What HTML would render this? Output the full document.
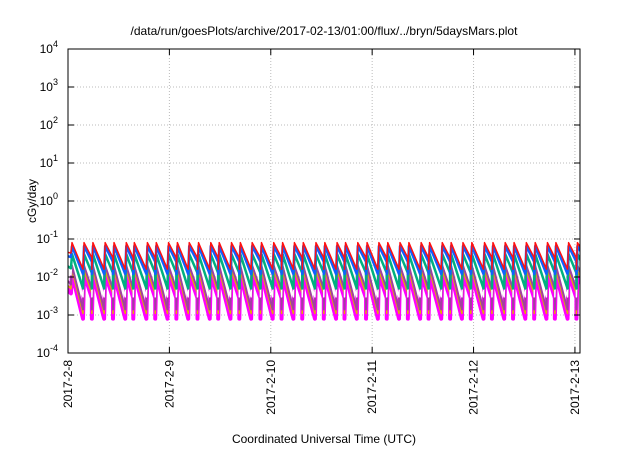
<!DOCTYPE html>
<html><head><meta charset="utf-8"><style>
body{margin:0;background:#fff;width:640px;height:448px;overflow:hidden}
svg{font-family:"Liberation Sans",sans-serif}
</style></head><body>
<svg id="chart" width="640" height="448" xmlns="http://www.w3.org/2000/svg">
<text x="324" y="35" font-size="12" text-anchor="middle">/data/run/goesPlots/archive/2017-02-13/01:00/flux/../bryn/5daysMars.plot</text>
<text x="324" y="443" font-size="12" text-anchor="middle">Coordinated Universal Time (UTC)</text>
<text transform="translate(36,201) rotate(-90)" font-size="12" text-anchor="middle">cGy/day</text>
<g id="grid"></g>
<g id="series"></g>
<g id="axes"></g>
</svg>
<script>
const xTickLabels=["2017-2-8","2017-2-9","2017-2-10","2017-2-11","2017-2-12","2017-2-13"];
const yTickExps=[-4,-3,-2,-1,0,1,2,3,4];
const peakHours=[0.95,3.8,5.9,8.8,10.9,13.8,15.7,18.8,20.9,23.8,25.9,28.7,30.9,33.8,35.8,38.7,40.8,43.6,45.8,48.7,50.8,53.6,55.7,58.7,60.8,63.7,65.7,68.6,70.8,73.6,75.7,78.6,80.7,83.6,85.6,88.6,90.7,93.5,95.6,98.6,100.6,103.5,105.6,108.5,110.6,113.5,115.5,118.5,120.6];
const seriesNames=["magenta","yellow","purple","cyan","green","blue","red"];
const seriesColors=["#ff00ff","#e0b000","#a040a0","#ffffff","#00b080","#1060ff","#ff1010"];
const seriesPeaks=[0.012,0.015,0.02,0.03,0.04,0.065,0.08];
const seriesTroughs=[0.0008,0.0011,0.0014,0.003,0.005,0.012,0.016];
const seriesWidths=[4,1.5,2,1.5,2.5,2.5,1.5];
const NS="http://www.w3.org/2000/svg";
const L=68,R=580,T=49,B=353,H0=0,H1=121.2;
const xs=h=>L+(h-H0)/(H1-H0)*(R-L);
const ys=v=>B-(Math.log10(v)+4)/8*(B-T);
function mk(tag,attrs,parent){const e=document.createElementNS(NS,tag);for(const k in attrs)e.setAttribute(k,attrs[k]);parent.appendChild(e);return e;}
const grid=document.getElementById('grid'),axes=document.getElementById('axes'),ser=document.getElementById('series');
yTickExps.forEach(ex=>{
  const y=ys(Math.pow(10,ex));
  if(ex>-4&&ex<4){const g=mk('line',{x1:L,x2:R,y1:y,y2:y,stroke:'#bbb','stroke-dasharray':'1,2'},grid);
  }
  const t1=mk('line',{x1:L,x2:L+6,y1:y,y2:y,stroke:'#000'},axes);
  
  const t2=mk('line',{x1:R-6,x2:R,y1:y,y2:y,stroke:'#000'},axes);
  
  const tx=mk('text',{x:58,y:y+4,'font-size':12,'text-anchor':'end'},axes);
  
  tx.textContent='10';
  const sp=mk('tspan',{dy:-6,'font-size':9},tx);sp.textContent=ex;
});
xTickLabels.forEach((lab,i)=>{
  const x=xs(i*24);
  if(i>0){const g=mk('line',{x1:x,x2:x,y1:T,y2:B,stroke:'#bbb','stroke-dasharray':'1,2'},grid);
  }
  const t1=mk('line',{x1:x,x2:x,y1:B,y2:B-6,stroke:'#000'},axes);
  
  const t2=mk('line',{x1:x,x2:x,y1:T,y2:T+6,stroke:'#000'},axes);
  
  const tx=mk('text',{transform:`translate(${x+4},${B+7}) rotate(-90)`,'font-size':12,'text-anchor':'end'},axes);
  
  tx.textContent=lab;
});
const fr=mk('rect',{x:L,y:T,width:R-L,height:B-T,fill:'none',stroke:'#000','stroke-width':1},axes);

const clip=mk('clipPath',{id:'pc'},document.getElementById('chart'));
mk('rect',{x:L,y:T,width:R-L,height:B-T},clip);
ser.setAttribute('clip-path','url(#pc)');
seriesNames.forEach((nm,s)=>{
  const pk=seriesPeaks[s],tr=seriesTroughs[s];
  let d=`M${xs(-1.5)},${ys(pk*0.6)}`;
  let prev=-1.5;
  peakHours.forEach((h,i)=>{
    const prevT=Math.sqrt(pk*tr)*1.2;
    d+=`L${xs(h-0.25)},${ys(i===0?prevT:tr)}L${xs(h)},${ys(pk)}`;
    const nxt=i+1<peakHours.length?peakHours[i+1]:h+2.5;
    const steps=6;
    const gap=nxt-h;
    const trNow=gap>2.5?tr:Math.sqrt(pk*tr)*0.9;
    for(let k=1;k<=steps;k++){const f=k/steps;const hh=h+f*(gap-0.25);
      const v=pk*Math.pow(trNow/pk,f);d+=`L${xs(hh)},${ys(v)}`;}
  });
  const p=mk('path',{d:d,fill:'none',stroke:seriesColors[s],'stroke-width':seriesWidths[s],'stroke-linejoin':'round'},ser);
  
  
});
</script>
</body></html>
